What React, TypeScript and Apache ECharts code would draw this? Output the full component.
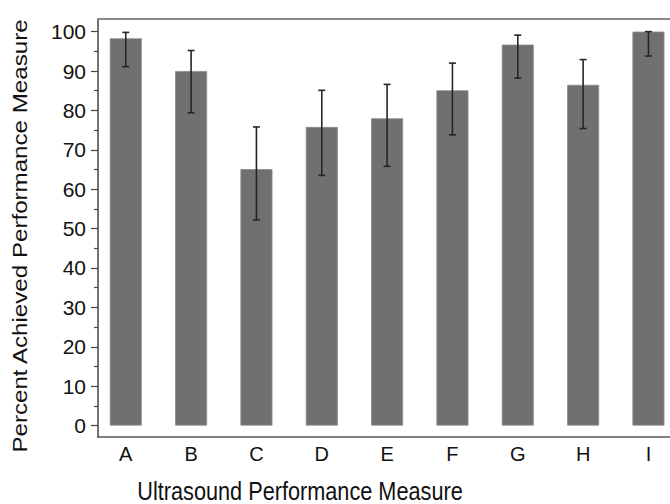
import React, { useEffect, useRef } from "react";
import * as echarts from "echarts";

const categories = ["A", "B", "C", "D", "E", "F", "G", "H", "I"];
const means = [98.3, 90.0, 65.1, 75.8, 78.0, 85.1, 96.7, 86.5, 100.0];
const errLow = [91.1, 79.4, 52.2, 63.5, 65.8, 73.8, 88.2, 75.4, 93.8];
const errHigh = [99.8, 95.2, 75.8, 85.1, 86.6, 92.0, 99.1, 92.9, 100.0];
const majorTicks = [0, 10, 20, 30, 40, 50, 60, 70, 80, 90, 100];
const minorTicks = [5, 15, 25, 35, 45, 55, 65, 75, 85, 95];

const FONT = "'Liberation Sans', Arial, Helvetica, sans-serif";

export default function App() {
  const ref = useRef<HTMLDivElement>(null);
  useEffect(() => {
    document.body.style.margin = "0";
    if (!ref.current) return;
    const chart = echarts.init(ref.current, undefined, { renderer: "svg" });
    const idx = categories.map((_, i) => i);
    const yMin = -2.9;
    const yMax = 103.2;
    chart.setOption({
      animation: false,
      backgroundColor: "#ffffff",
      grid: { left: 98, right: 0, top: 19, bottom: 67, containLabel: false },
      xAxis: [
        {
          type: "value",
          min: -0.425,
          max: 8.33,
          position: "bottom",
          axisLine: { show: true, onZero: false, lineStyle: { color: "#555", width: 1.5 } },
          axisTick: { show: false },
          splitLine: { show: false },
          axisLabel: {
            customValues: idx,
            formatter: (v: number) => categories[Math.round(v)] ?? "",
            fontFamily: FONT,
            fontSize: 20,
            color: "#111",
            margin: 7,
          },
        },
        {
          type: "value",
          min: -0.425,
          max: 8.33,
          position: "top",
          axisLine: { show: true, onZero: false, lineStyle: { color: "#8a8a8a", width: 2 } },
          axisTick: { show: false },
          axisLabel: { show: false },
          splitLine: { show: false },
        },
      ],
      yAxis: [
        {
          type: "value",
          min: yMin,
          max: yMax,
          position: "left",
          axisLine: { show: true, onZero: false, lineStyle: { color: "#444", width: 1.5 } },
          axisTick: {
            show: true,
            customValues: majorTicks,
            length: 7,
            inside: false,
            lineStyle: { color: "#444", width: 1.2 },
          },
          axisLabel: {
            customValues: majorTicks,
            fontFamily: FONT,
            fontSize: 21,
            color: "#111",
            margin: 12,
          },
          splitLine: { show: false },
        },
        {
          type: "value",
          min: yMin,
          max: yMax,
          position: "left",
          axisLine: { show: false, onZero: false },
          axisTick: {
            show: true,
            customValues: minorTicks,
            length: 4,
            inside: false,
            lineStyle: { color: "#444", width: 1.2 },
          },
          axisLabel: { show: false },
          splitLine: { show: false },
        },
      ],
      graphic: [
        {
          type: "text",
          x: 300,
          y: 491,
          scaleY: 1.15,
          style: {
            text: "Ultrasound Performance Measure",
            fontFamily: FONT,
            fontSize: 21.7,
            fill: "#111",
            align: "center",
            verticalAlign: "middle",
          },
        },
        {
          type: "text",
          x: 20,
          y: 236,
          rotation: Math.PI / 2,
          scaleX: 1.15,
          style: {
            text: "Percent Achieved Performance Measure",
            fontFamily: FONT,
            fontSize: 21,
            fill: "#111",
            align: "center",
            verticalAlign: "middle",
          },
        },
      ],
      series: [
        {
          type: "bar",
          xAxisIndex: 0,
          yAxisIndex: 0,
          barWidth: 32,
          data: means.map((v, i) => [i, v]),
          itemStyle: { color: "#707070", borderColor: "#8a8a8a", borderWidth: 0.8 },
        },
        {
          type: "custom",
          xAxisIndex: 0,
          yAxisIndex: 0,
          data: idx.map((i) => [i, errLow[i], errHigh[i]]),
          renderItem: (params: any, api: any) => {
            const x = api.value(0);
            const lo = api.coord([x, api.value(1)]);
            const hi = api.coord([x, api.value(2)]);
            const cap = 3.5;
            const style = { stroke: "#262626", lineWidth: 1.6 };
            return {
              type: "group",
              children: [
                { type: "line", shape: { x1: lo[0], y1: lo[1], x2: hi[0], y2: hi[1] }, style },
                { type: "line", shape: { x1: lo[0] - cap, y1: lo[1], x2: lo[0] + cap, y2: lo[1] }, style },
                { type: "line", shape: { x1: hi[0] - cap, y1: hi[1], x2: hi[0] + cap, y2: hi[1] }, style },
              ],
            };
          },
          z: 5,
        },
      ],
    });
    return () => chart.dispose();
  }, []);
  return <div ref={ref} style={{ width: 670, height: 504 }} />;
}
